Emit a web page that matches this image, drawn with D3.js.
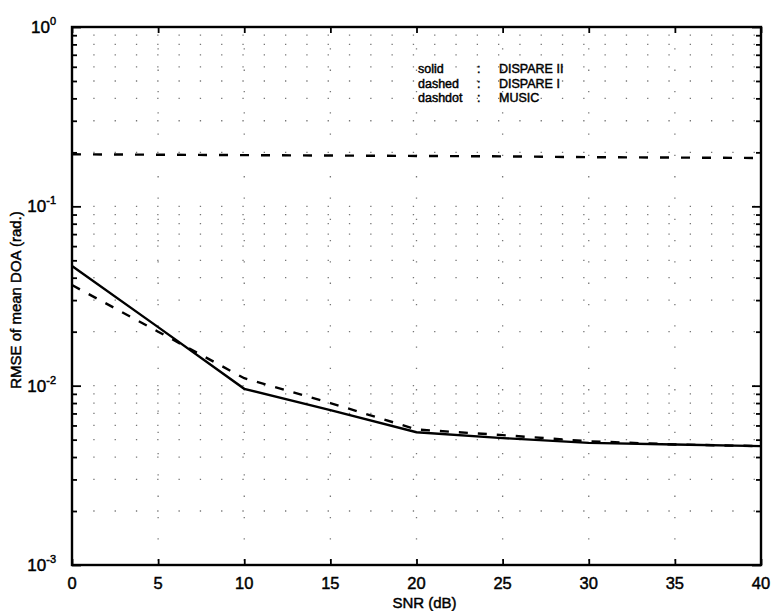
<!DOCTYPE html>
<html><head><meta charset="utf-8">
<script src="https://cdn.jsdelivr.net/npm/d3@7/dist/d3.min.js"></script>
<style>body{margin:0;background:#fff}</style>
</head><body>
<svg id="c" width="774" height="611"></svg>
<script>
const snr = [0, 5, 10, 15, 20, 25, 30, 35, 40];
const dispareII = [0.0465, 0.0212, 0.0096, 0.0073, 0.0055, 0.0051, 0.0048, 0.0047, 0.0046];
const dispareI  = [0.0364, 0.0200, 0.0110, 0.0080, 0.0057, 0.0053, 0.0049, 0.0047, 0.0046];
const music     = [0.195, 0.194, 0.193, 0.192, 0.191, 0.190, 0.188, 0.187, 0.186];
const xTicks = [0, 5, 10, 15, 20, 25, 30, 35, 40];
const yExps = [0, -1, -2, -3];
const legendKeys = ["solid", "dashed", "dashdot"];
const legendNames = ["DISPARE II", "DISPARE I", "MUSIC"];

const svg = d3.select("#c");
const L = 72, R = 761, T = 27, B = 565;
const x = d3.scaleLinear().domain([0, 40]).range([L, R]);
const y = d3.scaleLog().domain([1e-3, 1]).range([B, T]);
const font = "Liberation Sans, Arial, Helvetica, sans-serif";

const yAll = [];
for (let e = -3; e < 0; e++) for (let m = 1; m <= 9; m++) yAll.push(m * Math.pow(10, e));
yAll.push(1);

const grid = svg.append("g").attr("stroke", "#555").attr("stroke-width", 1.3)
  .attr("stroke-dasharray", "1.3,20").attr("opacity", 0.8);
grid.selectAll(".gx").data(xTicks.slice(1, -1)).join("line")
  .attr("x1", d => x(d)).attr("x2", d => x(d)).attr("y1", T).attr("y2", B);
grid.selectAll(".gy").data(yAll.filter(v => v > 1e-3 && v < 1)).join("line")
  .attr("x1", L).attr("x2", R).attr("y1", d => y(d)).attr("y2", d => y(d));

const xb = svg.append("g").attr("transform", `translate(0,${B})`)
  .call(d3.axisBottom(x).tickValues(xTicks).tickSize(-6).tickFormat(""));
const xt = svg.append("g").attr("transform", `translate(0,${T})`)
  .call(d3.axisTop(x).tickValues(xTicks).tickSize(-6).tickFormat(""));
const yl = svg.append("g").attr("transform", `translate(${L},0)`)
  .call(d3.axisLeft(y).tickValues(yAll).tickSize(-5).tickFormat(""));
const yr = svg.append("g").attr("transform", `translate(${R},0)`)
  .call(d3.axisRight(y).tickValues(yAll).tickSize(-5).tickFormat(""));
[xb, xt, yl, yr].forEach(g => {
  g.select(".domain").remove();
  g.selectAll(".tick line").attr("stroke", "#000").attr("stroke-width", 1.8);
});
[yl, yr].forEach((g, i) => g.selectAll(".tick line")
  .attr("x2", d => (Math.abs(Math.log10(d) - Math.round(Math.log10(d))) < 1e-9 ? (i ? -9 : 9) : (i ? -5 : 5))));

svg.append("rect").attr("x", L).attr("y", T).attr("width", R - L).attr("height", B - T)
  .attr("fill", "none").attr("stroke", "#000").attr("stroke-width", 2.4);

const txt = g => g.attr("font-family", font).attr("fill", "#000")
  .attr("stroke", "#000").attr("stroke-width", 0.45);

svg.append("g").call(txt).selectAll("text").data(xTicks).join("text")
  .attr("x", d => x(d)).attr("y", B + 24).attr("text-anchor", "middle")
  .attr("font-size", 16.5).text(d => d);

const yt = svg.append("g").call(txt).selectAll("text").data(yExps).join("text")
  .attr("x", L - 16).attr("y", d => y(Math.pow(10, d)) + 6).attr("text-anchor", "end")
  .attr("font-size", 17);
yt.append("tspan").text("10");
yt.append("tspan").attr("dy", -8).attr("font-size", 11).text(d => d);

svg.append("text").call(txt).attr("x", (L + R) / 2 + 8).attr("y", 608).attr("text-anchor", "middle")
  .attr("font-size", 15).text("SNR (dB)");
svg.append("text").call(txt).attr("transform", `translate(21,${(T + B) / 2 + 4}) rotate(-90)`)
  .attr("text-anchor", "middle").attr("font-size", 15).text("RMSE of mean DOA (rad.)");

const line = vals => d3.line().x((d, i) => x(snr[i])).y(d => y(d))(vals);
svg.append("path").attr("d", line(music)).attr("fill", "none").attr("stroke", "#000")
  .attr("stroke-width", 2.4).attr("stroke-dasharray", "9,12");
svg.append("path").attr("d", line(dispareI)).attr("fill", "none").attr("stroke", "#000")
  .attr("stroke-width", 2.4).attr("stroke-dasharray", "9,10");
svg.append("path").attr("d", line(dispareII)).attr("fill", "none").attr("stroke", "#000")
  .attr("stroke-width", 2.4);

const lg = svg.append("g").call(txt).attr("font-size", 12.5);
legendKeys.forEach((k, i) => {
  const yy = 73 + i * 14.5;
  lg.append("text").attr("x", 418).attr("y", yy).text(k);
  lg.append("text").attr("x", 477).attr("y", yy).text(":");
  lg.append("text").attr("x", 499).attr("y", yy).text(legendNames[i]);
});
</script>
</body></html>
